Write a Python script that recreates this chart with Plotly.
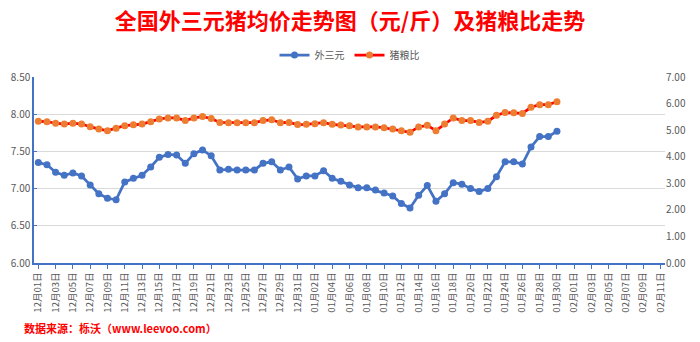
import plotly.graph_objects as go
import datetime as dt

# categories: daily Dec 01 .. Feb 11
start = dt.date(2020, 12, 1)
categories = [(start + dt.timedelta(days=i)).strftime("%m月%d日") for i in range(73)]

pig_price = [7.35, 7.32, 7.22, 7.18, 7.21, 7.17, 7.05, 6.93, 6.87, 6.85,
             7.09, 7.14, 7.18, 7.29, 7.42, 7.46, 7.45, 7.34, 7.47, 7.52,
             7.44, 7.25, 7.26, 7.25, 7.25, 7.25, 7.34, 7.36, 7.25, 7.29,
             7.13, 7.17, 7.17, 7.24, 7.14, 7.10, 7.05, 7.01, 7.01, 6.98,
             6.94, 6.90, 6.80, 6.74, 6.91, 7.04, 6.83, 6.93, 7.08, 7.06,
             7.00, 6.96, 7.00, 7.16, 7.36, 7.36, 7.33, 7.56, 7.70, 7.70,
             7.77]

pig_grain_ratio = [5.33, 5.32, 5.26, 5.23, 5.26, 5.23, 5.13, 5.04, 4.98, 5.07,
                   5.17, 5.20, 5.23, 5.32, 5.42, 5.46, 5.46, 5.36, 5.46, 5.51,
                   5.44, 5.29, 5.28, 5.28, 5.28, 5.28, 5.36, 5.39, 5.28, 5.29,
                   5.21, 5.22, 5.24, 5.28, 5.22, 5.19, 5.17, 5.12, 5.12, 5.12,
                   5.09, 5.04, 4.98, 4.92, 5.12, 5.18, 4.98, 5.23, 5.46, 5.36,
                   5.36, 5.29, 5.33, 5.56, 5.66, 5.65, 5.63, 5.86, 5.96, 5.96,
                   6.07]

series_names = ["外三元", "猪粮比"]
title_text = "全国外三元猪均价走势图（元/斤）及猪粮比走势"
source_text = "数据来源：栎沃（www.leevoo.com）"

left_ticks = [6.0, 6.5, 7.0, 7.5, 8.0, 8.5]
right_ticks = [0, 1, 2, 3, 4, 5, 6, 7]

FONT = "Noto Sans CJK SC"
GRAY = "#595959"
BLUE = "#4472C4"

fig = go.Figure()
fig.add_trace(go.Scatter(
    x=categories[:len(pig_price)], y=pig_price, name=series_names[0],
    mode="lines+markers", line=dict(color=BLUE, width=2.75),
    marker=dict(color=BLUE, size=7), yaxis="y"))
fig.add_trace(go.Scatter(
    x=categories[:len(pig_grain_ratio)], y=pig_grain_ratio, name=series_names[1],
    mode="lines+markers", line=dict(color="#FF0000", width=2.75),
    marker=dict(color="#ED7D31", size=7), yaxis="y2"))

fig.update_layout(
    width=700, height=342,
    margin=dict(l=34, r=35, t=77, b=79),
    paper_bgcolor="white", plot_bgcolor="white",
    font=dict(family=FONT, color=GRAY, size=10),
    title=dict(text="<b>" + title_text + "</b>", x=0.5, xanchor="center",
               y=1 - 21 / 342, yanchor="middle", yref="container",
               font=dict(family=FONT, size=22, color="#FF0000")),
    legend=dict(orientation="h", x=0.5, xanchor="center", y=1.118, yanchor="middle",
                font=dict(family=FONT, size=10, color=GRAY), itemwidth=30,
                bgcolor="rgba(0,0,0,0)"),
    showlegend=True,
    xaxis=dict(type="category", categoryorder="array", categoryarray=categories,
               range=[-0.5, len(categories) - 0.5],
               tickmode="array", tickvals=categories[::2], ticktext=categories[::2],
               tickangle=-90, tickfont=dict(size=9.5, color=GRAY, family=FONT),
               showline=True, linecolor=BLUE, linewidth=1.5,
               ticks="outside", ticklen=4, tickcolor=BLUE, showgrid=False,
               zeroline=False),
    yaxis=dict(range=[6.0, 8.5], tickmode="array", tickvals=left_ticks,
               tickformat=".2f", tickfont=dict(size=10, color=GRAY),
               showgrid=True, gridcolor="#D9D9D9", gridwidth=1,
               showline=True, linecolor=BLUE, linewidth=1.5,
               ticks="inside", ticklen=3, tickcolor=BLUE, zeroline=False),
    yaxis2=dict(range=[0, 7], tickmode="array", tickvals=right_ticks,
                tickformat=".2f", tickfont=dict(size=10, color=GRAY),
                overlaying="y", side="right", showgrid=False, showline=False,
                zeroline=False, ticks=""),
    annotations=[dict(text="<b>" + source_text + "</b>", xref="paper", yref="paper",
                      x=-0.019, y=-0.349, xanchor="left", yanchor="middle",
                      showarrow=False, font=dict(family=FONT, size=11, color="#FF0000"))],
)

fig.write_html("out.html")
